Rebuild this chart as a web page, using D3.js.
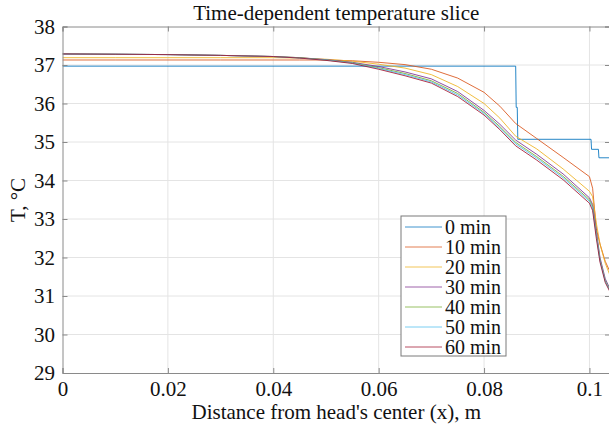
<!DOCTYPE html>
<html>
<head>
<meta charset="utf-8">
<script src="https://cdn.jsdelivr.net/npm/d3@7"></script>
<style>
  body { margin: 0; background: #fff; }
  svg text { font-family: "Liberation Serif", "Times New Roman", serif !important; fill: #111; }
</style>
</head>
<body>
<div id="chart"></div>
<script>
// data
var xTicks = [0, 0.02, 0.04, 0.06, 0.08, 0.1];
var yTicks = [29, 30, 31, 32, 33, 34, 35, 36, 37, 38];
var labels = ["0 min", "10 min", "20 min", "30 min", "40 min", "50 min", "60 min"];
var colors = ["#0072BD", "#D95319", "#EDB120", "#7E2F8E", "#77AC30", "#4DBEEE", "#A2142F"];

// 0 min is a step profile
var x0 = [0, 0.0860, 0.0861, 0.0863, 0.0864, 0.1003, 0.1004, 0.1017, 0.1018, 0.1040];
var t0 = [36.97, 36.97, 35.90, 35.90, 35.07, 35.07, 34.81, 34.81, 34.59, 34.59];

var xs = [0, 0.01, 0.02, 0.03, 0.04, 0.045, 0.05, 0.055, 0.06, 0.065, 0.07, 0.075, 0.08, 0.083, 0.086,
  0.09, 0.095, 0.1, 0.1006, 0.1013, 0.102, 0.103, 0.104];
var t10 = [37.13, 37.13, 37.13, 37.13, 37.13, 37.13, 37.13, 37.11, 37.07, 37.01, 36.89, 36.66, 36.29, 35.93, 35.48,
  35.09, 34.60, 34.10, 33.80, 32.75, 32.35, 31.90, 31.60];
var t20 = [37.19, 37.19, 37.19, 37.19, 37.19, 37.18, 37.15, 37.10, 37.02, 36.92, 36.75, 36.44, 36.00, 35.62, 35.15,
  34.82, 34.30, 33.72, 33.58, 32.90, 32.35, 31.85, 31.50];
var t30 = [37.28, 37.28, 37.27, 37.25, 37.22, 37.19, 37.14, 37.07, 36.96, 36.82, 36.64, 36.31, 35.82, 35.46, 35.05,
  34.68, 34.17, 33.55, 33.38, 32.70, 32.00, 31.45, 31.15];
var t40 = [37.29, 37.28, 37.27, 37.25, 37.22, 37.19, 37.13, 37.06, 36.93, 36.78, 36.59, 36.26, 35.77, 35.40, 34.99,
  34.62, 34.11, 33.50, 33.33, 32.62, 31.95, 31.40, 31.12];
var t50 = [37.29, 37.28, 37.27, 37.25, 37.22, 37.18, 37.13, 37.05, 36.91, 36.75, 36.56, 36.22, 35.74, 35.36, 34.95,
  34.58, 34.07, 33.46, 33.28, 32.57, 31.92, 31.38, 31.10];
var t60 = [37.29, 37.28, 37.27, 37.25, 37.22, 37.18, 37.12, 37.04, 36.89, 36.72, 36.53, 36.18, 35.70, 35.32, 34.90,
  34.53, 34.02, 33.41, 33.22, 32.50, 31.88, 31.35, 31.08];

var series = [
  x0.map(function (x, i) { return [x, t0[i]]; })
].concat([t10, t20, t30, t40, t50, t60].map(function (t) {
  return xs.map(function (x, i) { return [x, t[i]]; });
}));

var svgWidth = 609, svgHeight = 424;
var margin = { top: 26.5, right: -1, bottom: 51, left: 62.5 };
var width = svgWidth - margin.left - margin.right;
var height = svgHeight - margin.top - margin.bottom;

var svg = d3.select("#chart").append("svg")
  .attr("width", svgWidth)
  .attr("height", svgHeight);

var g = svg.append("g")
  .attr("transform", `translate(${margin.left}, ${margin.top})`);

var xScale = d3.scaleLinear().domain([0, 0.1039]).range([0, width]);
var yScale = d3.scaleLinear().domain([29, 38]).range([height, 0]);

svg.append("defs").append("clipPath").attr("id", "clip")
  .append("rect").attr("width", width).attr("height", height);

// grid
g.append("g").selectAll("line").data(xTicks.slice(1)).enter().append("line")
  .attr("x1", d => xScale(d)).attr("x2", d => xScale(d))
  .attr("y1", 0).attr("y2", height)
  .attr("stroke", "#e4e4e4").attr("stroke-width", 1);
g.append("g").selectAll("line").data(yTicks.slice(1, -1)).enter().append("line")
  .attr("y1", d => yScale(d)).attr("y2", d => yScale(d))
  .attr("x1", 0).attr("x2", width)
  .attr("stroke", "#e4e4e4").attr("stroke-width", 1);

// curves
var line = d3.line().x(d => xScale(d[0])).y(d => yScale(d[1]));
g.append("g").attr("clip-path", "url(#clip)")
  .selectAll("path").data(series).enter().append("path")
  .attr("d", line)
  .attr("fill", "none")
  .attr("stroke", (d, i) => colors[i])
  .attr("stroke-width", 1)
  .attr("stroke-opacity", 0.85);

// axes (ticks point inward)
var bottomAxis = d3.axisBottom(xScale).tickValues(xTicks).tickSize(-5).tickPadding(8)
  .tickFormat(d => d === 0 ? "0" : String(d));
var leftAxis = d3.axisLeft(yScale).tickValues(yTicks).tickSize(-5).tickPadding(7.5)
  .tickFormat(d3.format("d"));
var topAxis = d3.axisTop(xScale).tickValues(xTicks).tickSize(-5).tickFormat("");
var rightAxis = d3.axisRight(yScale).tickValues(yTicks).tickSize(-5).tickFormat("");

function styleAxis(sel) {
  sel.attr("font-family", null).attr("font-size", null);
  sel.selectAll("path").attr("stroke", "#8a8a8a");
  sel.selectAll("line").attr("stroke", "#8a8a8a");
  sel.selectAll("text").attr("font-size", 21).attr("fill", "#111")
    .style("font-family", "'Liberation Serif', serif");
}
g.append("g").attr("transform", `translate(0, ${height})`).call(bottomAxis).call(styleAxis);
g.append("g").call(leftAxis).call(styleAxis);
g.append("g").call(topAxis).call(styleAxis);
g.append("g").attr("transform", `translate(${width}, 0)`).call(rightAxis).call(styleAxis);

// title and axis labels
svg.append("text")
  .attr("x", margin.left + width / 2).attr("y", 20)
  .attr("text-anchor", "middle").attr("font-size", 21)
  .text("Time-dependent temperature slice");

svg.append("text")
  .attr("x", margin.left + width / 2).attr("y", 418.5)
  .attr("text-anchor", "middle").attr("font-size", 21)
  .text("Distance from head's center (x), m");

svg.append("text")
  .attr("transform", "translate(25, 200) rotate(-90)")
  .attr("text-anchor", "middle").attr("font-size", 21)
  .text("T, °C");

// legend
var legend = svg.append("g").attr("transform", "translate(401, 216)");
legend.append("rect")
  .attr("width", 105).attr("height", 140)
  .attr("fill", "#fff").attr("stroke", "#7a7a7a").attr("stroke-width", 1);
var rows = legend.selectAll("g.row").data(labels).enter().append("g")
  .attr("class", "row")
  .attr("transform", (d, i) => `translate(0, ${11 + i * 20})`);
rows.append("line")
  .attr("x1", 4).attr("x2", 41)
  .attr("stroke", (d, i) => colors[i]).attr("stroke-width", 1).attr("stroke-opacity", 0.75);
rows.append("text")
  .attr("x", 44).attr("y", 7)
  .attr("font-size", 20)
  .text(d => d);
</script>
</body>
</html>
